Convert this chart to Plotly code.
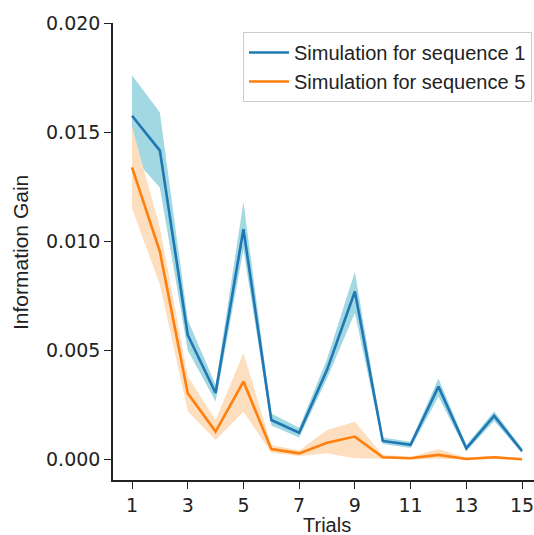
import plotly.graph_objects as go

trials = list(range(1, 16))

seq1_mean = [0.01575, 0.01415, 0.0057, 0.00304, 0.01055, 0.0018, 0.00122, 0.0041, 0.00769,
             0.00084, 0.00066, 0.00333, 0.0005, 0.00199, 0.00038]
seq1_upper = [0.0176, 0.0159, 0.0064, 0.0034, 0.0118, 0.0021, 0.00145, 0.0046, 0.0086,
              0.0010, 0.0008, 0.0037, 0.00065, 0.0022, 0.0005]
seq1_lower = [0.0139, 0.01245, 0.0050, 0.00265, 0.0096, 0.00155, 0.0010, 0.0037, 0.0067,
              0.0007, 0.00052, 0.00287, 0.00037, 0.00175, 0.00028]

seq5_mean = [0.01338, 0.00952, 0.00303, 0.00127, 0.00356, 0.00047, 0.00027, 0.00076, 0.00104,
             0.00009, 0.00005, 0.0002, 0.00001, 0.00009, 0.0]
seq5_upper = [0.01526, 0.0106, 0.0038, 0.0018, 0.00487, 0.00065, 0.0004, 0.00134, 0.00172,
              0.0002, 0.00012, 0.00046, 0.00008, 0.00016, 0.00006]
seq5_lower = [0.0115, 0.0080, 0.0022, 0.00088, 0.00218, 0.0003, 0.00015, 0.00028, 0.00005,
              0.00002, 0.0, 0.00002, 0.0, 0.00002, 0.0]

series_names = ["Simulation for sequence 1", "Simulation for sequence 5"]
y_ticks = [0.0, 0.005, 0.010, 0.015, 0.020]
x_ticks = list(range(1, 16, 2))

BLUE = "#1f77b4"
ORANGE = "#ff7f0e"
BLUE_BAND = "rgb(162,216,226)"
ORANGE_BAND = "rgb(253,222,190)"
SANS = "Liberation Sans, Arial, sans-serif"

fig = go.Figure()

def band(upper, lower, color):
    fig.add_trace(go.Scatter(
        x=trials + trials[::-1], y=upper + lower[::-1],
        fill="toself", fillcolor=color, line=dict(width=0),
        mode="lines", hoverinfo="skip", showlegend=False))

band(seq1_upper, seq1_lower, BLUE_BAND)
band(seq5_upper, seq5_lower, ORANGE_BAND)

fig.add_trace(go.Scatter(x=trials, y=seq1_mean, mode="lines", name=series_names[0],
                         line=dict(color=BLUE, width=2.6)))
fig.add_trace(go.Scatter(x=trials, y=seq5_mean, mode="lines", name=series_names[1],
                         line=dict(color=ORANGE, width=2.6)))

L, T, B = 113, 23, 55
W, H = 534, 535
pw, ph = W - L, H - T - B

fig.update_layout(
    width=W, height=H,
    margin=dict(l=L, r=0, t=T, b=B, pad=0),
    plot_bgcolor="white", paper_bgcolor="white",
    showlegend=True,
    legend=dict(
        x=(532 - L) / pw, y=(480 - 32) / ph, xanchor="right", yanchor="top",
        bordercolor="#cccccc", borderwidth=1, bgcolor="white",
        font=dict(family=SANS, size=20, color="#222"),
        tracegroupgap=0, itemwidth=40,
    ),
    xaxis=dict(
        range=[0.317, 15.43], tickmode="array", tickvals=x_ticks,
        showgrid=False, zeroline=False,
        showline=True, linecolor="#222", linewidth=1.5,
        ticks="outside", ticklen=7, tickwidth=1.3, tickcolor="#222",
        tickfont=dict(family="DejaVu Sans", size=19, color="#222"),
        ticklabeloverflow="allow",
    ),
    yaxis=dict(
        range=[-0.00095, 0.020], tickmode="array", tickvals=y_ticks, tickformat=".3f",
        showgrid=False, zeroline=False,
        showline=True, linecolor="#222", linewidth=1.5,
        ticks="outside", ticklen=7, tickwidth=1.3, tickcolor="#222",
        tickfont=dict(family="DejaVu Sans", size=19, color="#222"),
    ),
    annotations=[
        dict(text="Trials", xref="paper", yref="paper",
             x=(327 - L) / pw, y=(480 - 525) / ph, xanchor="center", yanchor="middle",
             showarrow=False, font=dict(family=SANS, size=20, color="#222")),
        dict(text="Information Gain", xref="paper", yref="paper", textangle=-90,
             x=(21 - L) / pw, y=(480 - 253) / ph, xanchor="center", yanchor="middle",
             showarrow=False, font=dict(family=SANS, size=21, color="#222")),
    ],
)

fig.write_html("out.html")
